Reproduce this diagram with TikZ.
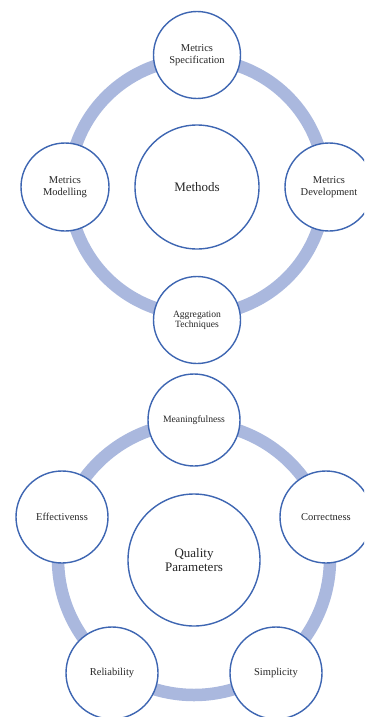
\documentclass[tikz,border=0pt]{standalone}
\usepackage{fontspec}
\setmainfont{Liberation Serif}
\definecolor{ringc}{RGB}{170,184,222}
\definecolor{edgec}{RGB}{62,102,178}
\tikzset{
  ringline/.style={draw=ringc, line width=12.5pt},
  bub/.style={circle, draw=edgec, line width=1.4pt, fill=white, inner sep=0pt, align=center, text=black!85},
  smalltxt/.style={font=\fontsize{10.5}{11.5}\selectfont},
  bigtxt/.style={font=\fontsize{13}{14}\selectfont},
}
\begin{document}
\begin{tikzpicture}[x=1pt,y=-1pt]
\useasboundingbox (0,0) rectangle (364,717);
\clip (0,0) rectangle (364,717);
% ---------- top diagram ----------
\coordinate (c1) at (197,187);
\draw[ringline] (c1) circle[radius=128];
\node[bub, bigtxt, minimum size=124pt] (methods) at (c1) {Methods};
\node[bub, smalltxt, minimum size=87pt] (spec) at (197,55) {Metrics\\Specification};
\node[bub, smalltxt, minimum size=88pt] (model) at (65,187) {Metrics\\Modelling};
\node[bub, smalltxt, minimum size=88pt] (devel) at (329,187) {Metrics\\Development};
\node[bub, font=\fontsize{9.6}{10.2}\selectfont, minimum size=87pt] (aggr) at (197,320) {Aggregation\\Techniques};
% ---------- bottom diagram ----------
\coordinate (c2) at (194,559);
\draw[ringline] (c2) circle[radius=136];
\node[bub, bigtxt, minimum size=132pt] (quality) at (194,560) {Quality\\Parameters};
\node[bub, font=\fontsize{9.7}{11}\selectfont, minimum size=92pt] (mean) at (194,420) {Meaningfulness};
\node[bub, smalltxt, minimum size=92pt] (corr) at (326,517) {Correctness};
\node[bub, smalltxt, minimum size=92pt] (effe) at (62,517) {Effectivenss};
\node[bub, smalltxt, minimum size=92pt] (reli) at (112,673) {Reliability};
\node[bub, smalltxt, minimum size=92pt] (simp) at (276,673) {Simplicity};
\end{tikzpicture}
\end{document}
